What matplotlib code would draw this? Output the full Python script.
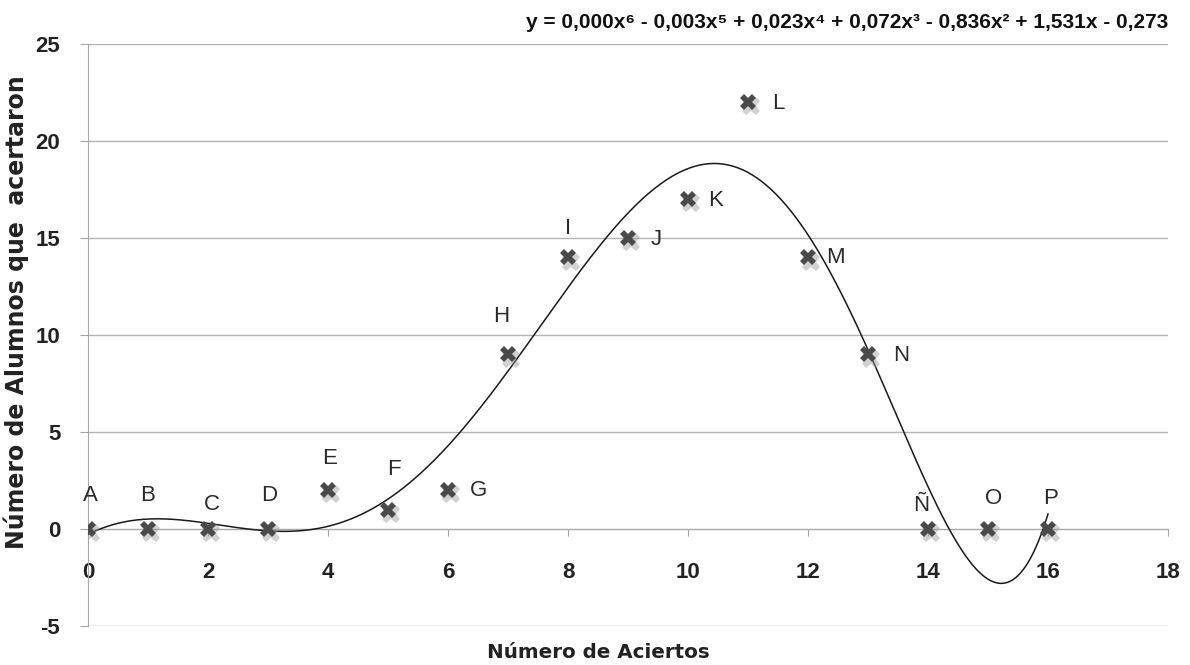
import numpy as np
import matplotlib
matplotlib.use("Agg")
import matplotlib.pyplot as plt
import matplotlib.transforms as mtransforms

plt.rcParams["axes.unicode_minus"] = False

# ---- data ----
aciertos = [0, 1, 2, 3, 4, 5, 6, 7, 8, 9, 10, 11, 12, 13, 14, 15, 16]
alumnos = [0, 0, 0, 0, 2, 1, 2, 9, 14, 15, 17, 22, 14, 9, 0, 0, 0]
letras = ["A", "B", "C", "D", "E", "F", "G", "H", "I", "J", "K", "L", "M", "N", "Ñ", "O", "P"]
xticks = [0, 2, 4, 6, 8, 10, 12, 14, 16, 18]
yticks = [-5, 0, 5, 10, 15, 20, 25]
ecuacion = "y = 0,000x⁶ - 0,003x⁵ + 0,023x⁴ + 0,072x³ - 0,836x² + 1,531x - 0,273"
x_title = "Número de Aciertos"
y_title = "Número de Alumnos que  acertaron"

# label offsets (points) for each letter
label_off = [(2, 24), (0, 24), (3, 18), (1, 24), (1, 23), (4, 29), (22, 0), (-5, 27),
             (0, 21), (20, -1), (20, -1), (22, -1), (20, 0), (24, -1), (-5, 17), (4, 22), (2, 22)]

tick_font = ["Liberation Sans Narrow", "Liberation Sans", "DejaVu Sans"]

fig = plt.figure(figsize=(11.9, 6.65), dpi=100)
ax = fig.add_axes([88 / 1190, 1 - 626 / 665, (1168 - 88) / 1190, (626 - 44) / 665])

ax.set_xlim(0, 18)
ax.set_ylim(-5, 25)
ax.set_yticks(yticks)
ax.set_xticks(xticks)
ax.yaxis.grid(True, color="#b4b4b4", linewidth=1.0)
ax.set_axisbelow(True)

for s in ["top", "right"]:
    ax.spines[s].set_visible(False)
ax.spines["bottom"].set_position(("data", 0))
ax.spines["bottom"].set_color("#a8a8a8")
ax.spines["left"].set_color("#a8a8a8")
ax.tick_params(axis="x", direction="out", length=5, color="#a8a8a8", pad=19)
ax.tick_params(axis="y", direction="out", length=6, color="#a8a8a8", pad=14)
for lab in ax.get_xticklabels() + ax.get_yticklabels():
    lab.set_family(tick_font)
    lab.set_fontweight("bold")
    lab.set_fontsize(16)
    lab.set_color("#222222")

# trendline: 6th order polynomial fit of the data
coef = np.polyfit(aciertos, alumnos, 6)
xs = np.linspace(min(aciertos), max(aciertos), 400)
ax.plot(xs, np.polyval(coef, xs), color="#1a1a1a", linewidth=1.1, zorder=3)

# marker shadow
shadow = mtransforms.offset_copy(ax.transData, fig=fig, x=2.5, y=-3, units="points")
ax.plot(aciertos, alumnos, linestyle="none", marker="X", markersize=13,
        color="#9a9a9a", alpha=0.45, markeredgewidth=0, transform=shadow, zorder=4)
ax.plot(aciertos, alumnos, linestyle="none", marker="X", markersize=12,
        color="#4a4a4a", markeredgewidth=0, zorder=5)

for x, y, t, (dx, dy) in zip(aciertos, alumnos, letras, label_off):
    ax.annotate(t, (x, y), xytext=(dx, dy), textcoords="offset points",
                ha="center", va="center", fontsize=16,
                family=["Liberation Sans", "DejaVu Sans"], color="#2a2a2a", zorder=6)

fig.text(1168 / 1190, 1 - 22 / 665, ecuacion, ha="right", va="center",
         fontsize=15, fontweight="bold", family=tick_font, color="#111111")
fig.text(598 / 1190, 1 - 653 / 665, x_title, ha="center", va="center",
         fontsize=14.3, fontweight="bold", family="DejaVu Sans", color="#222222")
fig.text(16 / 1190, 1 - 312 / 665, y_title, ha="center", va="center", rotation=90,
         fontsize=17, fontweight="bold", family="DejaVu Sans", color="#222222")

fig.savefig("out.png", dpi=100)
